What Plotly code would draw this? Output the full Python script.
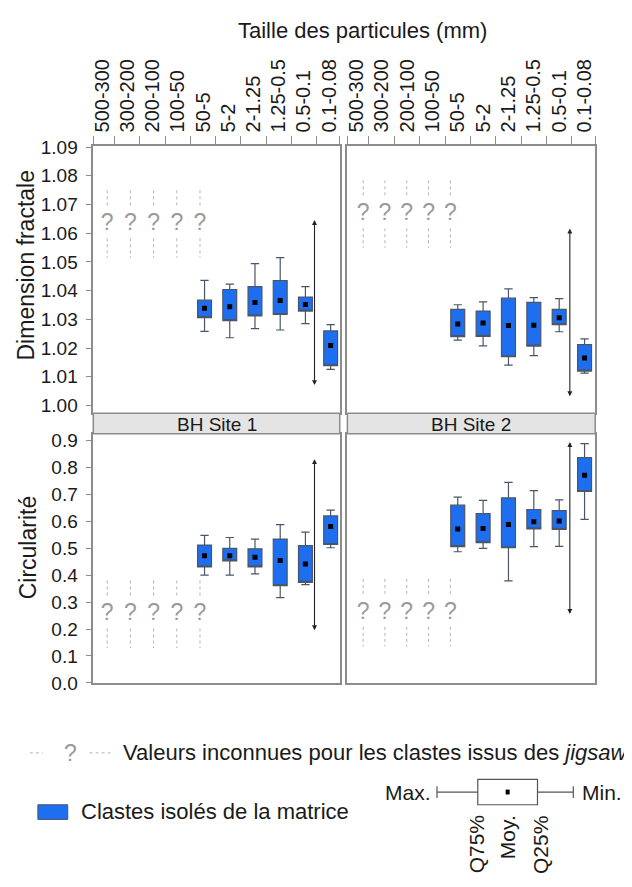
import plotly.graph_objects as go

# particle size classes (mm)
categories = ["500-300", "300-200", "200-100", "100-50", "50-5",
              "5-2", "2-1.25", "1.25-0.5", "0.5-0.1", "0.1-0.08"]
unknown_classes = categories[:5]     # jigsaw clasts: values unknown
measured_classes = categories[4:]    # clasts isolated from the matrix

# Dimension fractale - BH Site 1
fd1_max = [1.0436, 1.0423, 1.0494, 1.0515, 1.0414, 1.0282]
fd1_q75 = [1.0367, 1.0404, 1.0414, 1.0435, 1.0378, 1.0260]
fd1_mean = [1.0339, 1.0344, 1.0359, 1.0366, 1.0352, 1.0209]
fd1_q25 = [1.0306, 1.0296, 1.0312, 1.0317, 1.0329, 1.0139]
fd1_min = [1.0258, 1.0236, 1.0268, 1.0263, 1.0285, 1.0126]

# Dimension fractale - BH Site 2
fd2_max = [1.0351, 1.0361, 1.0406, 1.0376, 1.0372, 1.0232]
fd2_q75 = [1.0335, 1.0329, 1.0374, 1.0359, 1.0335, 1.0212]
fd2_mean = [1.0284, 1.0287, 1.0279, 1.0280, 1.0306, 1.0166]
fd2_q25 = [1.0240, 1.0241, 1.0170, 1.0207, 1.0282, 1.0120]
fd2_min = [1.0228, 1.0208, 1.0141, 1.0174, 1.0257, 1.0113]

# Circularite - BH Site 1
c1_max = [0.548, 0.540, 0.534, 0.588, 0.560, 0.642]
c1_q75 = [0.512, 0.500, 0.498, 0.534, 0.510, 0.620]
c1_mean = [0.472, 0.472, 0.467, 0.455, 0.442, 0.581]
c1_q25 = [0.431, 0.453, 0.431, 0.361, 0.373, 0.514]
c1_min = [0.400, 0.400, 0.405, 0.317, 0.365, 0.502]

# Circularite - BH Site 2
c2_max = [0.690, 0.678, 0.745, 0.714, 0.680, 0.889]
c2_q75 = [0.660, 0.629, 0.687, 0.644, 0.640, 0.837]
c2_mean = [0.572, 0.573, 0.588, 0.599, 0.601, 0.771]
c2_q25 = [0.506, 0.521, 0.502, 0.572, 0.570, 0.711]
c2_min = [0.487, 0.500, 0.379, 0.506, 0.507, 0.607]

# level of the "?" marks
fd1_unknown, fd2_unknown = 1.063, 1.0665
c1_unknown, c2_unknown = 0.253, 0.259

# double arrow (top, bottom)
fd1_arrow = [1.0646, 1.0066]
fd2_arrow = [1.0616, 1.0027]
c1_arrow = [0.831, 0.19]
c2_arrow = [0.895, 0.25]

fd_ticks = [1.00, 1.01, 1.02, 1.03, 1.04, 1.05, 1.06, 1.07, 1.08, 1.09]
c_ticks = [0.0, 0.1, 0.2, 0.3, 0.4, 0.5, 0.6, 0.7, 0.8, 0.9]

W, H = 632, 887
PAGE_OFFSET = 8  # body margin of the html page
BLUE = "#1d6ff0"
EDGE = "#4b5568"
FRAME = "#8c8c8c"
INK = "#1a1a1a"
QGRAY = "#9a9a9a"
DOTGRAY = "#b4b4b4"
STRIP = "#e4e4e4"
FONT = "Liberation Sans, Arial, sans-serif"

XRANGE = [-0.35, 9.42]
FD_RANGE = [0.9973, 1.0903]
C_RANGE = [-0.002, 0.925]
ARROW_X = 8.42


def px(x):
    return (x - PAGE_OFFSET) / W


def py(y):
    return 1 - (y - PAGE_OFFSET) / H


X_LEFT = [px(90.7), px(338.3)]
X_RIGHT = [px(346), px(595)]
Y_TOP = [py(413), py(140)]
Y_BOT = [py(689), py(434)]


def note(fig, text, x, y, size, xanchor="center", yanchor="middle", angle=0, color=INK):
    fig.add_annotation(text=text, x=px(x), y=py(y), xref="paper", yref="paper",
                       xanchor=xanchor, yanchor=yanchor, textangle=angle,
                       showarrow=False, font=dict(size=size, color=color, family=FONT))


def add_panel(fig, xa, ya, stats, unknown_y, arrow, yrange, h_px, box_shift, qm_start, qm_step):
    q_max, q75, mean, q25, q_min = stats
    xs = [categories.index(c) + box_shift for c in measured_classes]
    fig.add_trace(go.Box(
        x=xs, q1=q25, median=q25, q3=q75, lowerfence=q_min, upperfence=q_max,
        width=0.55, whiskerwidth=0.6, fillcolor=BLUE,
        line=dict(color=EDGE, width=1.2), boxpoints=False,
        xaxis=xa, yaxis=ya, hoverinfo="skip", showlegend=False
    ))
    fig.add_trace(go.Scatter(
        x=xs, y=mean, mode="markers",
        marker=dict(symbol="square", size=5, color="black"),
        xaxis=xa, yaxis=ya, hoverinfo="skip", showlegend=False
    ))

    qx = [qm_start + qm_step * i for i in range(len(unknown_classes))]
    fig.add_trace(go.Scatter(
        x=qx, y=[unknown_y] * len(qx), mode="text", text=["?"] * len(qx),
        textfont=dict(size=23, color=QGRAY, family=FONT),
        xaxis=xa, yaxis=ya, hoverinfo="skip", showlegend=False
    ))
    per_px = (yrange[1] - yrange[0]) / h_px
    lx, ly = [], []
    for x in qx:
        for a, b in ((-35, -18), (14, 34)):
            lx += [x, x, None]
            ly += [unknown_y - a * per_px, unknown_y - b * per_px, None]
    fig.add_trace(go.Scatter(
        x=lx, y=ly, mode="lines", line=dict(color=DOTGRAY, width=1, dash="dot"),
        xaxis=xa, yaxis=ya, hoverinfo="skip", showlegend=False
    ))

    fig.add_annotation(
        x=ARROW_X, y=arrow[0], ax=ARROW_X, ay=arrow[1],
        xref=xa, yref=ya, axref=xa, ayref=ya, text="",
        showarrow=True, arrowhead=2, arrowside="end+start",
        arrowsize=0.9, arrowwidth=1.1, arrowcolor="#222222"
    )


fig = go.Figure()
add_panel(fig, "x", "y", (fd1_max, fd1_q75, fd1_mean, fd1_q25, fd1_min),
          fd1_unknown, fd1_arrow, FD_RANGE, 273, 0.06, 0.2, 0.92)
add_panel(fig, "x2", "y2", (fd2_max, fd2_q75, fd2_mean, fd2_q25, fd2_min),
          fd2_unknown, fd2_arrow, FD_RANGE, 273, 0.0, 0.27, 0.86)
add_panel(fig, "x3", "y3", (c1_max, c1_q75, c1_mean, c1_q25, c1_min),
          c1_unknown, c1_arrow, C_RANGE, 255, 0.06, 0.2, 0.92)
add_panel(fig, "x4", "y4", (c2_max, c2_q75, c2_mean, c2_q25, c2_min),
          c2_unknown, c2_arrow, C_RANGE, 255, 0.0, 0.27, 0.86)

frame = dict(showgrid=False, zeroline=False, showline=True, mirror=True,
             linecolor=FRAME, linewidth=1.5)
top_x = dict(
    **frame, range=XRANGE, side="top", tickmode="array",
    tickvals=list(range(len(categories))), ticktext=categories, tickangle=-90,
    ticks="outside", ticklen=8, tickcolor="rgba(0,0,0,0)",
    tickfont=dict(size=20, color=INK, family=FONT),
    minor=dict(tickmode="array",
               tickvals=[XRANGE[0]] + [i + 0.5 for i in range(9)] + [XRANGE[1]],
               ticks="outside", ticklen=8, tickcolor=FRAME, tickwidth=1.2)
)
bot_x = dict(**frame, range=XRANGE, showticklabels=False, ticks="")
left_y = dict(**frame, ticks="outside", ticklen=6, tickcolor=FRAME, tickwidth=1.2,
              ticklabelstandoff=4, tickfont=dict(size=19, color=INK, family=FONT))
right_y = dict(**frame, showticklabels=False, ticks="")

fig.update_layout(
    width=W, height=H,
    margin=dict(l=0, r=0, t=0, b=0),
    paper_bgcolor="white", plot_bgcolor="white",
    font=dict(family=FONT, color=INK),
    showlegend=False,
    xaxis=dict(**top_x, domain=X_LEFT, anchor="y"),
    xaxis2=dict(**top_x, domain=X_RIGHT, anchor="y2"),
    xaxis3=dict(**bot_x, domain=X_LEFT, anchor="y3"),
    xaxis4=dict(**bot_x, domain=X_RIGHT, anchor="y4"),
    yaxis=dict(**left_y, domain=Y_TOP, range=FD_RANGE, anchor="x",
               tickvals=fd_ticks, tickformat=".2f"),
    yaxis2=dict(**right_y, domain=Y_TOP, range=FD_RANGE, anchor="x2"),
    yaxis3=dict(**left_y, domain=Y_BOT, range=C_RANGE, anchor="x3",
                tickvals=c_ticks, tickformat=".1f"),
    yaxis4=dict(**right_y, domain=Y_BOT, range=C_RANGE, anchor="x4"),
)

# site strips
for (x0, x1), label in (((90.7, 338.3), "BH Site 1"), ((346, 595), "BH Site 2")):
    fig.add_shape(type="rect", xref="paper", yref="paper",
                  x0=px(x0), x1=px(x1), y0=py(434), y1=py(413),
                  fillcolor=STRIP, line=dict(color=FRAME, width=1.5))
    note(fig, label, (x0 + x1) / 2, 424, 19)

# titles
note(fig, "Taille des particules (mm)", 361, 22, 22)
note(fig, "Dimension fractale", 23, 262, 23, angle=-90)
note(fig, "Circularité", 25, 550, 23, angle=-90)

# legend: unknown values
for x0, x1 in ((27, 40), (87, 108)):
    fig.add_shape(type="line", xref="paper", yref="paper",
                  x0=px(x0), x1=px(x1), y0=py(760), y1=py(760),
                  line=dict(color=DOTGRAY, width=1, dash="dot"))
note(fig, "?", 68, 760, 23, color=QGRAY)
note(fig, "Valeurs inconnues pour les clastes issus des <i>jigsaw</i>",
     119, 760, 22, xanchor="left")

# legend: isolated clasts
fig.add_shape(type="rect", xref="paper", yref="paper",
              x0=px(35), x1=px(65), y0=py(828), y1=py(813),
              fillcolor=BLUE, line=dict(color=EDGE, width=1))
note(fig, "Clastes isolés de la matrice", 76, 820, 22, xanchor="left")

# legend: box key
key_line = dict(color="#555555", width=1.2)
for x0, x1, y0, y1 in ((436, 477, 800, 800), (436, 436, 794, 806),
                       (537, 573, 800, 800), (573, 573, 794, 806)):
    fig.add_shape(type="line", xref="paper", yref="paper", x0=px(x0), x1=px(x1),
                  y0=py(y0), y1=py(y1), line=key_line)
fig.add_shape(type="rect", xref="paper", yref="paper", x0=px(477), x1=px(537),
              y0=py(813), y1=py(787), fillcolor="white", line=key_line)
fig.add_shape(type="rect", xref="paper", yref="paper", x0=px(505), x1=px(509),
              y0=py(802.5), y1=py(797.5), fillcolor="black", line=dict(width=0))
note(fig, "Max.", 432, 800, 21, xanchor="right")
note(fig, "Min.", 580, 800, 21, xanchor="left")
for label, x in (("Q75%", 476), ("Moy.", 507), ("Q25%", 540)):
    note(fig, label, x, 822, 21, yanchor="top", angle=-90)

fig.write_html("out.html")
